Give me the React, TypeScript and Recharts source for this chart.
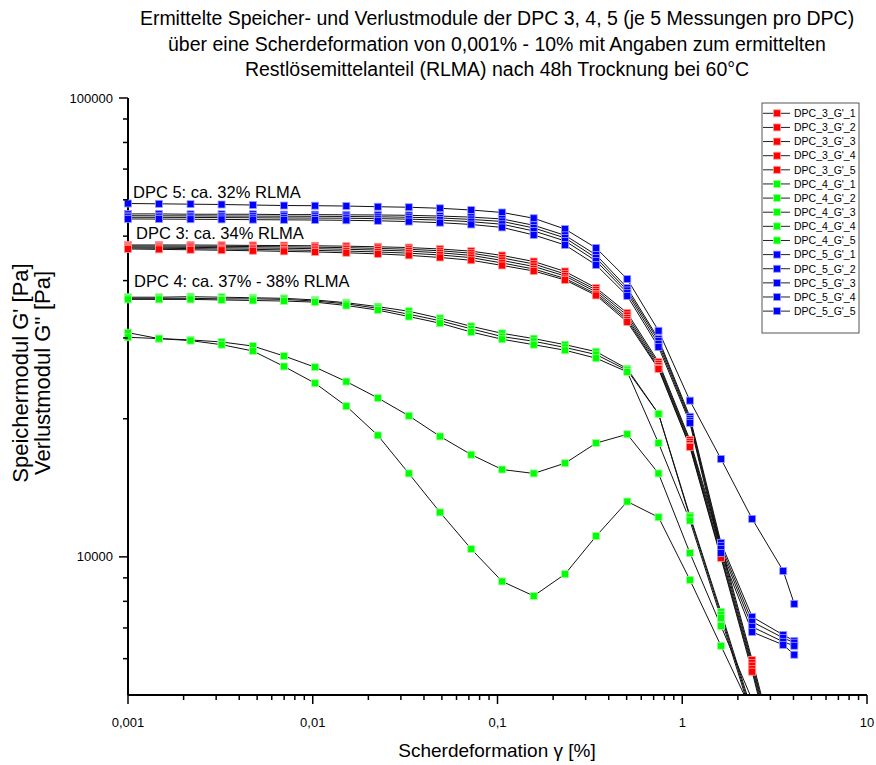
import React from "react"
import { LineChart, Line, XAxis, YAxis } from "recharts"

const W = 876
const H = 765
const FONT = "'Liberation Sans', Arial, sans-serif"

// shear strain in % (same grid for all measurements)
const gamma = [
  0.001, 0.00147, 0.00218, 0.00321, 0.00474, 0.00699, 0.0103, 0.0152, 0.0225, 0.0331, 0.0489, 0.0721,
  0.106, 0.157, 0.232, 0.342, 0.504, 0.744, 1.1, 1.62, 2.39, 3.52, 4.04,
]

// G' in Pa, DPC 3
const dpc3_1 = [47830, 47830, 47830, 47780, 47730, 47690, 47640, 47540, 47400, 47210, 46880, 46370, 45380, 44030, 41880, 38550, 34000, 26590, 17980, 10620, 5960, 3270]
const dpc3_2 = [47590, 47570, 47540, 47500, 47450, 47380, 47300, 47190, 47020, 46810, 46460, 45900, 44810, 43490, 41350, 38170, 33580, 26330, 17800, 10410, 5870, 3200]
const dpc3_3 = [47350, 47300, 47260, 47190, 47120, 47050, 46950, 46810, 46620, 46390, 45990, 45400, 44250, 42940, 40940, 37780, 33160, 26070, 17630, 10200, 5790, 3140]
const dpc3_4 = [47120, 47050, 46970, 46880, 46790, 46670, 46550, 46390, 46180, 45900, 45490, 44880, 43700, 42400, 40430, 37410, 32830, 25810, 17450, 10050, 5700, 3080]
const dpc3_5 = [46880, 46790, 46690, 46580, 46460, 46320, 46180, 45990, 45740, 45400, 44920, 44300, 43160, 41980, 40130, 37130, 32500, 25680, 17360, 9950, 5620, 3010]

// G' in Pa, DPC 4
const dpc4_1 = [36800, 36800, 36900, 36800, 36700, 36600, 36300, 35800, 35100, 34300, 33100, 31800, 30700, 29900, 29000, 28000, 25700, 20500, 12300, 7590, 4600]
const dpc4_2 = [36600, 36600, 36600, 36500, 36500, 36400, 36100, 35600, 34800, 33800, 32700, 31400, 30200, 29500, 28600, 27600, 25500, 20500, 12200, 7480, 4530]
const dpc4_3 = [36400, 36400, 36400, 36300, 36200, 36100, 35900, 35300, 34500, 33400, 32300, 30900, 29800, 29000, 28200, 27100, 25300, 17700, 12000, 7360, 4460]
const dpc4_4 = [30800, 29900, 29700, 29400, 28800, 27400, 25900, 24100, 22200, 20300, 18300, 16700, 15500, 15200, 16000, 17700, 18500, 15200, 10200, 7070, 4880]
const dpc4_5 = [30100, 29900, 29600, 29000, 28100, 26000, 23900, 21300, 18400, 15200, 12500, 10400, 8840, 8220, 9170, 11100, 13200, 12200, 8910, 6400, 4600]

// G' in Pa, DPC 5
const dpc5_1 = [58900, 58800, 58700, 58600, 58450, 58300, 58250, 58150, 57950, 57800, 57500, 57000, 56300, 54700, 51800, 47100, 40300, 31100, 21900, 16350, 12100, 9320, 7900]
const dpc5_2 = [55900, 55900, 55800, 55800, 55800, 55700, 55700, 55650, 55600, 55500, 55300, 55000, 54500, 52800, 50200, 45500, 38550, 29850, 20200, 10730, 7400, 6760, 6560]
const dpc5_3 = [55400, 55370, 55350, 55300, 55290, 55260, 55230, 55180, 55100, 54960, 54770, 54370, 53820, 52100, 49550, 44800, 38070, 29550, 19980, 10570, 7220, 6660, 6500]
const dpc5_4 = [54960, 54940, 54910, 54880, 54830, 54770, 54740, 54700, 54580, 54450, 54180, 53750, 53070, 51320, 48810, 44140, 37600, 29110, 19790, 10410, 7040, 6530, 6400]
const dpc5_5 = [54500, 54470, 54420, 54370, 54310, 54260, 54210, 54130, 54000, 53790, 53490, 53010, 52230, 50300, 47830, 43270, 37040, 28670, 19590, 10200, 6860, 6430, 6120]

const xTicks = [
  0.001, 0.002, 0.003, 0.004, 0.005, 0.006, 0.007, 0.008, 0.009,
  0.01, 0.02, 0.03, 0.04, 0.05, 0.06, 0.07, 0.08, 0.09,
  0.1, 0.2, 0.3, 0.4, 0.5, 0.6, 0.7, 0.8, 0.9,
  1, 2, 3, 4, 5, 6, 7, 8, 9, 10,
]
const xMajor = [0.001, 0.01, 0.1, 1, 10]
const xLabels = ["0,001", "0,01", "0,1", "1", "10"]

const yTicks = [6000, 7000, 8000, 9000, 10000, 20000, 30000, 40000, 50000, 60000, 70000, 80000, 90000, 100000]
const yMajor = [10000, 100000]
const yLabels = ["10000", "100000"]

const Y_MIN = 5000
const Y_MAX = 100000

const ROT = "#ff0000"
const GRUEN = "#00ff00"
const BLAU = "#0000ff"

const serien = [
  { name: "DPC_3_G'_1", color: ROT, werte: dpc3_1 },
  { name: "DPC_3_G'_2", color: ROT, werte: dpc3_2 },
  { name: "DPC_3_G'_3", color: ROT, werte: dpc3_3 },
  { name: "DPC_3_G'_4", color: ROT, werte: dpc3_4 },
  { name: "DPC_3_G'_5", color: ROT, werte: dpc3_5 },
  { name: "DPC_4_G'_1", color: GRUEN, werte: dpc4_1 },
  { name: "DPC_4_G'_2", color: GRUEN, werte: dpc4_2 },
  { name: "DPC_4_G'_3", color: GRUEN, werte: dpc4_3 },
  { name: "DPC_4_G'_4", color: GRUEN, werte: dpc4_4 },
  { name: "DPC_4_G'_5", color: GRUEN, werte: dpc4_5 },
  { name: "DPC_5_G'_1", color: BLAU, werte: dpc5_1 },
  { name: "DPC_5_G'_2", color: BLAU, werte: dpc5_2 },
  { name: "DPC_5_G'_3", color: BLAU, werte: dpc5_3 },
  { name: "DPC_5_G'_4", color: BLAU, werte: dpc5_4 },
  { name: "DPC_5_G'_5", color: BLAU, werte: dpc5_5 },
]

const kante: Record<string, string> = {
  [ROT]: "#ff9a9a",
  [GRUEN]: "#9aff9a",
  [BLAU]: "#9a9aff",
}

// l* = full curve (clipped on its own axis), p* = only points inside the visible range
const daten = gamma.map((g, i) => {
  const row: Record<string, number | null> = { g }
  serien.forEach((s, j) => {
    const v = s.werte[i]
    row["l" + j] = v == null ? null : v
    row["p" + j] = v != null && v >= Y_MIN ? v : null
  })
  return row
})

function quadrat(fill: string) {
  return (props: any) => {
    const { cx, cy, index, dataKey } = props
    const key = `${dataKey}-${index}`
    if (cx == null || cy == null) return <g key={key} />
    return (
      <rect key={key} x={cx - 3.5} y={cy - 3.5} width={7} height={7} fill={fill} stroke={kante[fill]} strokeWidth={0.8} />
    )
  }
}

function XTick(props: any) {
  const { x, y, payload } = props
  const idx = xMajor.indexOf(payload.value)
  const major = idx >= 0
  return (
    <g>
      <line x1={x} x2={x} y1={y} y2={y + (major ? 9 : 5)} stroke="#000" strokeWidth={1.5} />
      {major && (
        <text x={x} y={y + 32} textAnchor="middle" fontSize={13} fontFamily={FONT} fill="#000">
          {xLabels[idx]}
        </text>
      )}
    </g>
  )
}

function YTick(props: any) {
  const { x, y, payload } = props
  const idx = yMajor.indexOf(payload.value)
  const major = idx >= 0
  return (
    <g>
      <line x1={x} x2={x - (major ? 9 : 5)} y1={y} y2={y} stroke="#000" strokeWidth={1.5} />
      {major && (
        <text x={x - 15} y={y + 4.5} textAnchor="end" fontSize={13} fontFamily={FONT} fill="#000">
          {yLabels[idx]}
        </text>
      )}
    </g>
  )
}

function Legende() {
  const x0 = 762
  const y0 = 103
  const zeile = 14.13
  return (
    <g>
      <rect x={x0} y={y0} width={97} height={230} fill="#fff" stroke="#555" strokeWidth={1} />
      {serien.map((s, i) => {
        const y = 113.3 + i * zeile
        return (
          <g key={s.name}>
            <line x1={763} x2={790} y1={y} y2={y} stroke="#222" strokeWidth={1} />
            <rect x={773.5} y={y - 3.5} width={7} height={7} fill={s.color} stroke={kante[s.color]} strokeWidth={0.8} />
            <text x={794} y={y + 3.8} fontSize={10.5} fontFamily={FONT} fill="#000">
              {s.name}
            </text>
          </g>
        )
      })}
    </g>
  )
}

export default function App() {
  return (
    <div style={{ position: "absolute", left: 0, top: 0, width: W, height: H, background: "#fff" }}>
      <LineChart width={W} height={H} data={daten} margin={{ top: 98, right: 9, bottom: 10, left: 68 }}>
        <XAxis
          dataKey="g"
          type="number"
          scale="log"
          domain={[0.001, 10]}
          ticks={xTicks}
          interval={0}
          tick={<XTick />}
          tickLine={false}
          tickSize={0}
          tickMargin={0}
          height={60}
          axisLine={{ stroke: "#000", strokeWidth: 2 }}
        />
        <YAxis
          yAxisId="pts"
          type="number"
          scale="log"
          domain={[Y_MIN, Y_MAX]}
          ticks={yTicks}
          interval={0}
          tick={<YTick />}
          tickLine={false}
          tickSize={0}
          tickMargin={0}
          width={60}
          axisLine={{ stroke: "#000", strokeWidth: 2 }}
        />
        <YAxis yAxisId="clip" type="number" scale="log" domain={[Y_MIN, Y_MAX]} allowDataOverflow hide width={0} />
        {serien.map((s, j) => [
          <Line
            key={"l" + j}
            yAxisId="clip"
            type="linear"
            dataKey={"l" + j}
            stroke="#111"
            strokeWidth={1}
            dot={false}
            activeDot={false}
            isAnimationActive={false}
          />,
          <Line
            key={"p" + j}
            yAxisId="pts"
            type="linear"
            dataKey={"p" + j}
            stroke="none"
            dot={quadrat(s.color)}
            activeDot={false}
            isAnimationActive={false}
          />,
        ])}
      </LineChart>

      <svg width={W} height={H} style={{ position: "absolute", left: 0, top: 0, pointerEvents: "none" }}>
        <g fontFamily={FONT} fill="#000" textAnchor="middle" fontSize={19.5}>
          <text x={497} y={25}>Ermittelte Speicher- und Verlustmodule der DPC 3, 4, 5 (je 5 Messungen pro DPC)</text>
          <text x={497} y={51}>über eine Scherdeformation von 0,001% - 10% mit Angaben zum ermittelten</text>
          <text x={497} y={76}>Restlösemittelanteil (RLMA) nach 48h Trocknung bei 60°C</text>
        </g>
        <g fontFamily={FONT} fill="#000" fontSize={16.5}>
          <text x={133} y={198}>DPC 5: ca. 32% RLMA</text>
          <text x={136} y={239}>DPC 3: ca. 34% RLMA</text>
          <text x={134} y={287}>DPC 4: ca. 37% - 38% RLMA</text>
        </g>
        <text x={497} y={757} fontFamily={FONT} fontSize={19} textAnchor="middle">
          Scherdeformation γ [%]
        </text>
        <g fontFamily={FONT} fontSize={22} textAnchor="middle">
          <text transform="translate(28,373) rotate(-90)">Speichermodul G' [Pa]</text>
          <text transform="translate(50,373) rotate(-90)">Verlustmodul G'' [Pa]</text>
        </g>
        <Legende />
      </svg>
    </div>
  )
}
